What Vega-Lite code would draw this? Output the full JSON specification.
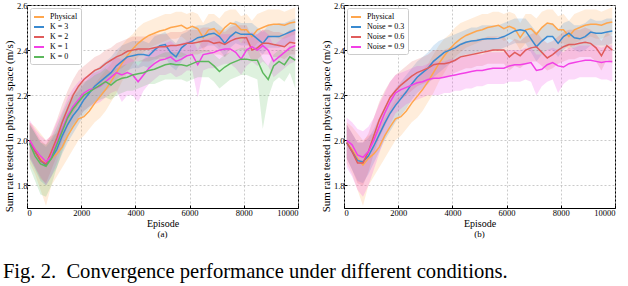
{
"$schema":"https://vega.github.io/schema/vega-lite/v6.json",
"padding":{"left":2,"top":0,"right":4,"bottom":0},
"title":{"text":"Fig. 2.\u00a0 Convergence performance under different conditions.","orient":"bottom","anchor":"start","fontSize":20.6,"fontWeight":"normal","font":"Liberation Serif","color":"#000","offset":23},
"spacing":20,
"resolve":{"scale":{"color":"independent","fill":"independent"}},
"datasets":{
"phys":[
{"e":100,"s":"Physical","v":1.99,"l":1.90,"h":2.08},{"e":300,"s":"Physical","v":1.96,"l":1.85,"h":2.06},{"e":500,"s":"Physical","v":1.92,"l":1.78,"h":2.03},{"e":700,"s":"Physical","v":1.89,"l":1.71,"h":2.00},{"e":900,"s":"Physical","v":1.92,"l":1.80,"h":2.02},{"e":1100,"s":"Physical","v":1.94,"l":1.84,"h":2.03},{"e":1300,"s":"Physical","v":1.97,"l":1.88,"h":2.06},{"e":1500,"s":"Physical","v":2.02,"l":1.92,"h":2.10},{"e":1700,"s":"Physical","v":2.06,"l":1.96,"h":2.14},{"e":1900,"s":"Physical","v":2.095,"l":2.00,"h":2.18},
{"e":2100,"s":"Physical","v":2.105,"l":2.02,"h":2.20},{"e":2300,"s":"Physical","v":2.13,"l":2.05,"h":2.22},{"e":2500,"s":"Physical","v":2.165,"l":2.08,"h":2.25},{"e":2700,"s":"Physical","v":2.195,"l":2.10,"h":2.28},{"e":2900,"s":"Physical","v":2.225,"l":2.13,"h":2.31},{"e":3100,"s":"Physical","v":2.26,"l":2.17,"h":2.34},{"e":3300,"s":"Physical","v":2.30,"l":2.21,"h":2.38},{"e":3500,"s":"Physical","v":2.34,"l":2.26,"h":2.42},{"e":3700,"s":"Physical","v":2.375,"l":2.30,"h":2.45},{"e":3900,"s":"Physical","v":2.405,"l":2.34,"h":2.47},
{"e":4100,"s":"Physical","v":2.43,"l":2.37,"h":2.50},{"e":4300,"s":"Physical","v":2.45,"l":2.39,"h":2.52},{"e":4500,"s":"Physical","v":2.465,"l":2.41,"h":2.53},{"e":4700,"s":"Physical","v":2.475,"l":2.42,"h":2.54},{"e":4900,"s":"Physical","v":2.485,"l":2.43,"h":2.55},{"e":5100,"s":"Physical","v":2.49,"l":2.44,"h":2.56},{"e":5300,"s":"Physical","v":2.50,"l":2.45,"h":2.56},{"e":5500,"s":"Physical","v":2.505,"l":2.45,"h":2.57},{"e":5700,"s":"Physical","v":2.51,"l":2.46,"h":2.57},{"e":5900,"s":"Physical","v":2.495,"l":2.44,"h":2.56},
{"e":6100,"s":"Physical","v":2.505,"l":2.45,"h":2.57},{"e":6300,"s":"Physical","v":2.495,"l":2.44,"h":2.56},{"e":6500,"s":"Physical","v":2.455,"l":2.40,"h":2.52},{"e":6700,"s":"Physical","v":2.49,"l":2.43,"h":2.56},{"e":6900,"s":"Physical","v":2.495,"l":2.44,"h":2.56},{"e":7100,"s":"Physical","v":2.47,"l":2.41,"h":2.54},{"e":7300,"s":"Physical","v":2.50,"l":2.44,"h":2.57},{"e":7500,"s":"Physical","v":2.52,"l":2.46,"h":2.58},{"e":7700,"s":"Physical","v":2.515,"l":2.46,"h":2.58},{"e":7900,"s":"Physical","v":2.49,"l":2.43,"h":2.55},
{"e":8100,"s":"Physical","v":2.49,"l":2.43,"h":2.56},{"e":8300,"s":"Physical","v":2.46,"l":2.40,"h":2.53},{"e":8500,"s":"Physical","v":2.49,"l":2.43,"h":2.56},{"e":8700,"s":"Physical","v":2.50,"l":2.44,"h":2.57},{"e":8900,"s":"Physical","v":2.51,"l":2.45,"h":2.58},{"e":9100,"s":"Physical","v":2.515,"l":2.46,"h":2.58},{"e":9300,"s":"Physical","v":2.515,"l":2.45,"h":2.58},{"e":9500,"s":"Physical","v":2.51,"l":2.45,"h":2.57},{"e":9700,"s":"Physical","v":2.52,"l":2.46,"h":2.58},{"e":9900,"s":"Physical","v":2.525,"l":2.47,"h":2.59}
],
"ka":[
{"e":100,"s":"K = 3","v":1.99,"l":1.92,"h":2.07},{"e":300,"s":"K = 3","v":1.95,"l":1.87,"h":2.03},{"e":500,"s":"K = 3","v":1.91,"l":1.82,"h":1.99},{"e":700,"s":"K = 3","v":1.89,"l":1.80,"h":1.97},{"e":900,"s":"K = 3","v":1.92,"l":1.84,"h":2.00},{"e":1100,"s":"K = 3","v":1.96,"l":1.88,"h":2.04},{"e":1300,"s":"K = 3","v":2.02,"l":1.94,"h":2.10},{"e":1500,"s":"K = 3","v":2.07,"l":1.99,"h":2.15},{"e":1700,"s":"K = 3","v":2.11,"l":2.03,"h":2.19},{"e":1900,"s":"K = 3","v":2.14,"l":2.07,"h":2.22},
{"e":2100,"s":"K = 3","v":2.18,"l":2.11,"h":2.25},{"e":2300,"s":"K = 3","v":2.21,"l":2.14,"h":2.28},{"e":2500,"s":"K = 3","v":2.24,"l":2.17,"h":2.31},{"e":2700,"s":"K = 3","v":2.26,"l":2.19,"h":2.33},{"e":2900,"s":"K = 3","v":2.28,"l":2.22,"h":2.35},{"e":3100,"s":"K = 3","v":2.30,"l":2.24,"h":2.37},{"e":3300,"s":"K = 3","v":2.33,"l":2.27,"h":2.40},{"e":3500,"s":"K = 3","v":2.35,"l":2.29,"h":2.42},{"e":3700,"s":"K = 3","v":2.37,"l":2.31,"h":2.43},{"e":3900,"s":"K = 3","v":2.375,"l":2.32,"h":2.44},
{"e":4100,"s":"K = 3","v":2.38,"l":2.32,"h":2.44},{"e":4300,"s":"K = 3","v":2.38,"l":2.33,"h":2.44},{"e":4500,"s":"K = 3","v":2.375,"l":2.32,"h":2.43},{"e":4700,"s":"K = 3","v":2.40,"l":2.35,"h":2.46},{"e":4900,"s":"K = 3","v":2.42,"l":2.37,"h":2.47},{"e":5100,"s":"K = 3","v":2.425,"l":2.37,"h":2.48},{"e":5300,"s":"K = 3","v":2.39,"l":2.33,"h":2.45},{"e":5500,"s":"K = 3","v":2.37,"l":2.31,"h":2.43},{"e":5700,"s":"K = 3","v":2.41,"l":2.35,"h":2.47},{"e":5900,"s":"K = 3","v":2.43,"l":2.38,"h":2.48},
{"e":6100,"s":"K = 3","v":2.44,"l":2.39,"h":2.50},{"e":6300,"s":"K = 3","v":2.455,"l":2.40,"h":2.51},{"e":6500,"s":"K = 3","v":2.46,"l":2.41,"h":2.51},{"e":6700,"s":"K = 3","v":2.47,"l":2.42,"h":2.52},{"e":6900,"s":"K = 3","v":2.475,"l":2.42,"h":2.53},{"e":7100,"s":"K = 3","v":2.46,"l":2.40,"h":2.51},{"e":7300,"s":"K = 3","v":2.43,"l":2.37,"h":2.49},{"e":7500,"s":"K = 3","v":2.46,"l":2.41,"h":2.51},{"e":7700,"s":"K = 3","v":2.48,"l":2.43,"h":2.53},{"e":7900,"s":"K = 3","v":2.47,"l":2.42,"h":2.52},
{"e":8100,"s":"K = 3","v":2.47,"l":2.42,"h":2.52},{"e":8300,"s":"K = 3","v":2.47,"l":2.42,"h":2.52},{"e":8500,"s":"K = 3","v":2.45,"l":2.40,"h":2.50},{"e":8700,"s":"K = 3","v":2.43,"l":2.38,"h":2.48},{"e":8900,"s":"K = 3","v":2.46,"l":2.41,"h":2.51},{"e":9100,"s":"K = 3","v":2.46,"l":2.41,"h":2.51},{"e":9300,"s":"K = 3","v":2.46,"l":2.41,"h":2.52},{"e":9500,"s":"K = 3","v":2.47,"l":2.42,"h":2.52},{"e":9700,"s":"K = 3","v":2.48,"l":2.43,"h":2.53},{"e":9900,"s":"K = 3","v":2.49,"l":2.44,"h":2.54},
{"e":100,"s":"K = 2","v":2.00,"l":1.93,"h":2.08},{"e":300,"s":"K = 2","v":1.95,"l":1.88,"h":2.04},{"e":500,"s":"K = 2","v":1.91,"l":1.83,"h":2.00},{"e":700,"s":"K = 2","v":1.895,"l":1.81,"h":1.98},{"e":900,"s":"K = 2","v":1.95,"l":1.87,"h":2.03},{"e":1100,"s":"K = 2","v":2.01,"l":1.93,"h":2.09},{"e":1300,"s":"K = 2","v":2.08,"l":2.00,"h":2.16},{"e":1500,"s":"K = 2","v":2.14,"l":2.06,"h":2.22},{"e":1700,"s":"K = 2","v":2.20,"l":2.12,"h":2.27},{"e":1900,"s":"K = 2","v":2.24,"l":2.16,"h":2.31},
{"e":2100,"s":"K = 2","v":2.27,"l":2.19,"h":2.33},{"e":2300,"s":"K = 2","v":2.29,"l":2.22,"h":2.35},{"e":2500,"s":"K = 2","v":2.31,"l":2.24,"h":2.37},{"e":2700,"s":"K = 2","v":2.32,"l":2.25,"h":2.38},{"e":2900,"s":"K = 2","v":2.34,"l":2.27,"h":2.40},{"e":3100,"s":"K = 2","v":2.355,"l":2.29,"h":2.41},{"e":3300,"s":"K = 2","v":2.37,"l":2.31,"h":2.43},{"e":3500,"s":"K = 2","v":2.38,"l":2.32,"h":2.44},{"e":3700,"s":"K = 2","v":2.395,"l":2.34,"h":2.45},{"e":3900,"s":"K = 2","v":2.40,"l":2.35,"h":2.46},
{"e":4100,"s":"K = 2","v":2.405,"l":2.35,"h":2.46},{"e":4300,"s":"K = 2","v":2.405,"l":2.35,"h":2.46},{"e":4500,"s":"K = 2","v":2.405,"l":2.35,"h":2.46},{"e":4700,"s":"K = 2","v":2.41,"l":2.36,"h":2.47},{"e":4900,"s":"K = 2","v":2.415,"l":2.36,"h":2.47},{"e":5100,"s":"K = 2","v":2.415,"l":2.36,"h":2.47},{"e":5300,"s":"K = 2","v":2.42,"l":2.37,"h":2.48},{"e":5500,"s":"K = 2","v":2.42,"l":2.37,"h":2.48},{"e":5700,"s":"K = 2","v":2.425,"l":2.37,"h":2.48},{"e":5900,"s":"K = 2","v":2.43,"l":2.38,"h":2.49},
{"e":6100,"s":"K = 2","v":2.43,"l":2.38,"h":2.49},{"e":6300,"s":"K = 2","v":2.435,"l":2.38,"h":2.49},{"e":6500,"s":"K = 2","v":2.44,"l":2.39,"h":2.50},{"e":6700,"s":"K = 2","v":2.44,"l":2.39,"h":2.50},{"e":6900,"s":"K = 2","v":2.43,"l":2.38,"h":2.49},{"e":7100,"s":"K = 2","v":2.435,"l":2.38,"h":2.49},{"e":7300,"s":"K = 2","v":2.425,"l":2.37,"h":2.48},{"e":7500,"s":"K = 2","v":2.44,"l":2.39,"h":2.50},{"e":7700,"s":"K = 2","v":2.45,"l":2.40,"h":2.51},{"e":7900,"s":"K = 2","v":2.455,"l":2.40,"h":2.51},
{"e":8100,"s":"K = 2","v":2.455,"l":2.40,"h":2.51},{"e":8300,"s":"K = 2","v":2.40,"l":2.35,"h":2.46},{"e":8500,"s":"K = 2","v":2.41,"l":2.36,"h":2.47},{"e":8700,"s":"K = 2","v":2.43,"l":2.38,"h":2.49},{"e":8900,"s":"K = 2","v":2.43,"l":2.38,"h":2.49},{"e":9100,"s":"K = 2","v":2.425,"l":2.37,"h":2.48},{"e":9300,"s":"K = 2","v":2.42,"l":2.37,"h":2.48},{"e":9500,"s":"K = 2","v":2.415,"l":2.36,"h":2.47},{"e":9700,"s":"K = 2","v":2.435,"l":2.38,"h":2.49},{"e":9900,"s":"K = 2","v":2.43,"l":2.38,"h":2.49},
{"e":100,"s":"K = 1","v":2.00,"l":1.92,"h":2.09},{"e":300,"s":"K = 1","v":1.96,"l":1.88,"h":2.05},{"e":500,"s":"K = 1","v":1.93,"l":1.84,"h":2.02},{"e":700,"s":"K = 1","v":1.905,"l":1.80,"h":2.00},{"e":900,"s":"K = 1","v":1.93,"l":1.84,"h":2.02},{"e":1100,"s":"K = 1","v":1.99,"l":1.90,"h":2.08},{"e":1300,"s":"K = 1","v":2.05,"l":1.97,"h":2.13},{"e":1500,"s":"K = 1","v":2.11,"l":2.03,"h":2.19},{"e":1700,"s":"K = 1","v":2.15,"l":2.07,"h":2.23},{"e":1900,"s":"K = 1","v":2.18,"l":2.10,"h":2.26},
{"e":2100,"s":"K = 1","v":2.21,"l":2.13,"h":2.28},{"e":2300,"s":"K = 1","v":2.225,"l":2.15,"h":2.29},{"e":2500,"s":"K = 1","v":2.23,"l":2.16,"h":2.30},{"e":2700,"s":"K = 1","v":2.24,"l":2.17,"h":2.31},{"e":2900,"s":"K = 1","v":2.26,"l":2.19,"h":2.33},{"e":3100,"s":"K = 1","v":2.28,"l":2.21,"h":2.35},{"e":3300,"s":"K = 1","v":2.30,"l":2.22,"h":2.37},{"e":3500,"s":"K = 1","v":2.29,"l":2.17,"h":2.36},{"e":3700,"s":"K = 1","v":2.30,"l":2.20,"h":2.37},{"e":3900,"s":"K = 1","v":2.29,"l":2.20,"h":2.36},
{"e":4100,"s":"K = 1","v":2.26,"l":2.17,"h":2.33},{"e":4300,"s":"K = 1","v":2.29,"l":2.22,"h":2.36},{"e":4500,"s":"K = 1","v":2.32,"l":2.25,"h":2.39},{"e":4700,"s":"K = 1","v":2.34,"l":2.27,"h":2.41},{"e":4900,"s":"K = 1","v":2.355,"l":2.29,"h":2.42},{"e":5100,"s":"K = 1","v":2.36,"l":2.29,"h":2.43},{"e":5300,"s":"K = 1","v":2.37,"l":2.30,"h":2.44},{"e":5500,"s":"K = 1","v":2.35,"l":2.28,"h":2.42},{"e":5700,"s":"K = 1","v":2.36,"l":2.29,"h":2.43},{"e":5900,"s":"K = 1","v":2.375,"l":2.31,"h":2.44},
{"e":6100,"s":"K = 1","v":2.38,"l":2.31,"h":2.45},{"e":6300,"s":"K = 1","v":2.335,"l":2.19,"h":2.40},{"e":6500,"s":"K = 1","v":2.38,"l":2.31,"h":2.45},{"e":6700,"s":"K = 1","v":2.385,"l":2.32,"h":2.45},{"e":6900,"s":"K = 1","v":2.39,"l":2.32,"h":2.46},{"e":7100,"s":"K = 1","v":2.40,"l":2.33,"h":2.47},{"e":7300,"s":"K = 1","v":2.405,"l":2.34,"h":2.47},{"e":7500,"s":"K = 1","v":2.405,"l":2.34,"h":2.47},{"e":7700,"s":"K = 1","v":2.39,"l":2.32,"h":2.46},{"e":7900,"s":"K = 1","v":2.36,"l":2.29,"h":2.43},
{"e":8100,"s":"K = 1","v":2.40,"l":2.33,"h":2.47},{"e":8300,"s":"K = 1","v":2.415,"l":2.35,"h":2.48},{"e":8500,"s":"K = 1","v":2.40,"l":2.33,"h":2.47},{"e":8700,"s":"K = 1","v":2.42,"l":2.35,"h":2.49},{"e":8900,"s":"K = 1","v":2.40,"l":2.33,"h":2.47},{"e":9100,"s":"K = 1","v":2.35,"l":2.28,"h":2.42},{"e":9300,"s":"K = 1","v":2.37,"l":2.30,"h":2.44},{"e":9500,"s":"K = 1","v":2.39,"l":2.32,"h":2.46},{"e":9700,"s":"K = 1","v":2.41,"l":2.34,"h":2.48},{"e":9900,"s":"K = 1","v":2.42,"l":2.35,"h":2.49},
{"e":100,"s":"K = 0","v":1.985,"l":1.88,"h":2.07},{"e":300,"s":"K = 0","v":1.93,"l":1.82,"h":2.03},{"e":500,"s":"K = 0","v":1.895,"l":1.76,"h":1.99},{"e":700,"s":"K = 0","v":1.885,"l":1.75,"h":1.98},{"e":900,"s":"K = 0","v":1.92,"l":1.80,"h":2.01},{"e":1100,"s":"K = 0","v":1.98,"l":1.88,"h":2.06},{"e":1300,"s":"K = 0","v":2.04,"l":1.95,"h":2.12},{"e":1500,"s":"K = 0","v":2.10,"l":2.01,"h":2.17},{"e":1700,"s":"K = 0","v":2.14,"l":2.06,"h":2.21},{"e":1900,"s":"K = 0","v":2.17,"l":2.10,"h":2.24},
{"e":2100,"s":"K = 0","v":2.20,"l":2.13,"h":2.26},{"e":2300,"s":"K = 0","v":2.215,"l":2.15,"h":2.27},{"e":2500,"s":"K = 0","v":2.23,"l":2.17,"h":2.29},{"e":2700,"s":"K = 0","v":2.245,"l":2.18,"h":2.30},{"e":2900,"s":"K = 0","v":2.26,"l":2.19,"h":2.32},{"e":3100,"s":"K = 0","v":2.245,"l":2.18,"h":2.30},{"e":3300,"s":"K = 0","v":2.265,"l":2.20,"h":2.32},{"e":3500,"s":"K = 0","v":2.275,"l":2.21,"h":2.33},{"e":3700,"s":"K = 0","v":2.28,"l":2.22,"h":2.34},{"e":3900,"s":"K = 0","v":2.29,"l":2.22,"h":2.35},
{"e":4100,"s":"K = 0","v":2.295,"l":2.23,"h":2.35},{"e":4300,"s":"K = 0","v":2.30,"l":2.24,"h":2.36},{"e":4500,"s":"K = 0","v":2.31,"l":2.25,"h":2.37},{"e":4700,"s":"K = 0","v":2.315,"l":2.25,"h":2.37},{"e":4900,"s":"K = 0","v":2.325,"l":2.26,"h":2.38},{"e":5100,"s":"K = 0","v":2.335,"l":2.27,"h":2.39},{"e":5300,"s":"K = 0","v":2.34,"l":2.27,"h":2.39},{"e":5500,"s":"K = 0","v":2.335,"l":2.27,"h":2.39},{"e":5700,"s":"K = 0","v":2.335,"l":2.27,"h":2.39},{"e":5900,"s":"K = 0","v":2.33,"l":2.26,"h":2.38},
{"e":6100,"s":"K = 0","v":2.34,"l":2.27,"h":2.39},{"e":6300,"s":"K = 0","v":2.35,"l":2.28,"h":2.40},{"e":6500,"s":"K = 0","v":2.35,"l":2.28,"h":2.40},{"e":6700,"s":"K = 0","v":2.35,"l":2.28,"h":2.40},{"e":6900,"s":"K = 0","v":2.33,"l":2.26,"h":2.38},{"e":7100,"s":"K = 0","v":2.305,"l":2.23,"h":2.36},{"e":7300,"s":"K = 0","v":2.325,"l":2.25,"h":2.38},{"e":7500,"s":"K = 0","v":2.34,"l":2.27,"h":2.39},{"e":7700,"s":"K = 0","v":2.35,"l":2.28,"h":2.40},{"e":7900,"s":"K = 0","v":2.36,"l":2.29,"h":2.41},
{"e":8100,"s":"K = 0","v":2.36,"l":2.29,"h":2.41},{"e":8300,"s":"K = 0","v":2.355,"l":2.28,"h":2.41},{"e":8500,"s":"K = 0","v":2.355,"l":2.27,"h":2.41},{"e":8700,"s":"K = 0","v":2.30,"l":2.05,"h":2.36},{"e":8900,"s":"K = 0","v":2.27,"l":2.19,"h":2.33},{"e":9100,"s":"K = 0","v":2.33,"l":2.26,"h":2.38},{"e":9300,"s":"K = 0","v":2.35,"l":2.28,"h":2.40},{"e":9500,"s":"K = 0","v":2.335,"l":2.26,"h":2.39},{"e":9700,"s":"K = 0","v":2.37,"l":2.30,"h":2.42},{"e":9900,"s":"K = 0","v":2.355,"l":2.23,"h":2.41}
],
"nb":[
{"e":100,"s":"Noise = 0.3","v":1.99,"l":1.92,"h":2.07},{"e":300,"s":"Noise = 0.3","v":1.95,"l":1.87,"h":2.03},{"e":500,"s":"Noise = 0.3","v":1.91,"l":1.82,"h":1.99},{"e":700,"s":"Noise = 0.3","v":1.905,"l":1.81,"h":1.99},{"e":900,"s":"Noise = 0.3","v":1.93,"l":1.85,"h":2.01},{"e":1100,"s":"Noise = 0.3","v":1.975,"l":1.90,"h":2.05},{"e":1300,"s":"Noise = 0.3","v":2.025,"l":1.95,"h":2.10},{"e":1500,"s":"Noise = 0.3","v":2.075,"l":2.00,"h":2.15},{"e":1700,"s":"Noise = 0.3","v":2.12,"l":2.04,"h":2.19},{"e":1900,"s":"Noise = 0.3","v":2.155,"l":2.08,"h":2.23},
{"e":2100,"s":"Noise = 0.3","v":2.185,"l":2.11,"h":2.26},{"e":2300,"s":"Noise = 0.3","v":2.215,"l":2.14,"h":2.29},{"e":2500,"s":"Noise = 0.3","v":2.25,"l":2.18,"h":2.32},{"e":2700,"s":"Noise = 0.3","v":2.28,"l":2.21,"h":2.35},{"e":2900,"s":"Noise = 0.3","v":2.30,"l":2.23,"h":2.37},{"e":3100,"s":"Noise = 0.3","v":2.32,"l":2.25,"h":2.39},{"e":3300,"s":"Noise = 0.3","v":2.35,"l":2.28,"h":2.42},{"e":3500,"s":"Noise = 0.3","v":2.37,"l":2.30,"h":2.44},{"e":3700,"s":"Noise = 0.3","v":2.39,"l":2.32,"h":2.45},{"e":3900,"s":"Noise = 0.3","v":2.40,"l":2.34,"h":2.46},
{"e":4100,"s":"Noise = 0.3","v":2.41,"l":2.35,"h":2.47},{"e":4300,"s":"Noise = 0.3","v":2.425,"l":2.37,"h":2.48},{"e":4500,"s":"Noise = 0.3","v":2.435,"l":2.38,"h":2.49},{"e":4700,"s":"Noise = 0.3","v":2.44,"l":2.38,"h":2.50},{"e":4900,"s":"Noise = 0.3","v":2.443,"l":2.39,"h":2.50},{"e":5100,"s":"Noise = 0.3","v":2.448,"l":2.39,"h":2.51},{"e":5300,"s":"Noise = 0.3","v":2.45,"l":2.40,"h":2.51},{"e":5500,"s":"Noise = 0.3","v":2.45,"l":2.40,"h":2.51},{"e":5700,"s":"Noise = 0.3","v":2.452,"l":2.40,"h":2.51},{"e":5900,"s":"Noise = 0.3","v":2.46,"l":2.41,"h":2.52},
{"e":6100,"s":"Noise = 0.3","v":2.472,"l":2.42,"h":2.53},{"e":6300,"s":"Noise = 0.3","v":2.485,"l":2.43,"h":2.54},{"e":6500,"s":"Noise = 0.3","v":2.49,"l":2.43,"h":2.54},{"e":6700,"s":"Noise = 0.3","v":2.485,"l":2.43,"h":2.54},{"e":6900,"s":"Noise = 0.3","v":2.45,"l":2.39,"h":2.51},{"e":7100,"s":"Noise = 0.3","v":2.415,"l":2.35,"h":2.48},{"e":7300,"s":"Noise = 0.3","v":2.44,"l":2.38,"h":2.50},{"e":7500,"s":"Noise = 0.3","v":2.46,"l":2.40,"h":2.52},{"e":7700,"s":"Noise = 0.3","v":2.46,"l":2.40,"h":2.52},{"e":7900,"s":"Noise = 0.3","v":2.43,"l":2.37,"h":2.49},
{"e":8100,"s":"Noise = 0.3","v":2.46,"l":2.40,"h":2.52},{"e":8300,"s":"Noise = 0.3","v":2.475,"l":2.42,"h":2.53},{"e":8500,"s":"Noise = 0.3","v":2.455,"l":2.40,"h":2.51},{"e":8700,"s":"Noise = 0.3","v":2.45,"l":2.39,"h":2.51},{"e":8900,"s":"Noise = 0.3","v":2.46,"l":2.40,"h":2.52},{"e":9100,"s":"Noise = 0.3","v":2.48,"l":2.42,"h":2.54},{"e":9300,"s":"Noise = 0.3","v":2.475,"l":2.42,"h":2.53},{"e":9500,"s":"Noise = 0.3","v":2.475,"l":2.42,"h":2.53},{"e":9700,"s":"Noise = 0.3","v":2.48,"l":2.42,"h":2.54},{"e":9900,"s":"Noise = 0.3","v":2.485,"l":2.43,"h":2.54},
{"e":100,"s":"Noise = 0.6","v":1.99,"l":1.92,"h":2.07},{"e":300,"s":"Noise = 0.6","v":1.95,"l":1.87,"h":2.03},{"e":500,"s":"Noise = 0.6","v":1.90,"l":1.81,"h":1.99},{"e":700,"s":"Noise = 0.6","v":1.90,"l":1.80,"h":1.99},{"e":900,"s":"Noise = 0.6","v":1.95,"l":1.86,"h":2.03},{"e":1100,"s":"Noise = 0.6","v":2.02,"l":1.94,"h":2.10},{"e":1300,"s":"Noise = 0.6","v":2.09,"l":2.01,"h":2.17},{"e":1500,"s":"Noise = 0.6","v":2.14,"l":2.06,"h":2.22},{"e":1700,"s":"Noise = 0.6","v":2.19,"l":2.11,"h":2.26},{"e":1900,"s":"Noise = 0.6","v":2.22,"l":2.15,"h":2.29},
{"e":2100,"s":"Noise = 0.6","v":2.245,"l":2.18,"h":2.31},{"e":2300,"s":"Noise = 0.6","v":2.265,"l":2.20,"h":2.33},{"e":2500,"s":"Noise = 0.6","v":2.285,"l":2.22,"h":2.35},{"e":2700,"s":"Noise = 0.6","v":2.30,"l":2.24,"h":2.36},{"e":2900,"s":"Noise = 0.6","v":2.31,"l":2.25,"h":2.37},{"e":3100,"s":"Noise = 0.6","v":2.32,"l":2.26,"h":2.38},{"e":3300,"s":"Noise = 0.6","v":2.335,"l":2.27,"h":2.40},{"e":3500,"s":"Noise = 0.6","v":2.34,"l":2.28,"h":2.40},{"e":3700,"s":"Noise = 0.6","v":2.34,"l":2.28,"h":2.40},{"e":3900,"s":"Noise = 0.6","v":2.345,"l":2.29,"h":2.41},
{"e":4100,"s":"Noise = 0.6","v":2.355,"l":2.30,"h":2.42},{"e":4300,"s":"Noise = 0.6","v":2.37,"l":2.31,"h":2.43},{"e":4500,"s":"Noise = 0.6","v":2.375,"l":2.32,"h":2.44},{"e":4700,"s":"Noise = 0.6","v":2.38,"l":2.32,"h":2.44},{"e":4900,"s":"Noise = 0.6","v":2.385,"l":2.33,"h":2.45},{"e":5100,"s":"Noise = 0.6","v":2.39,"l":2.33,"h":2.45},{"e":5300,"s":"Noise = 0.6","v":2.395,"l":2.34,"h":2.46},{"e":5500,"s":"Noise = 0.6","v":2.40,"l":2.34,"h":2.46},{"e":5700,"s":"Noise = 0.6","v":2.40,"l":2.34,"h":2.46},{"e":5900,"s":"Noise = 0.6","v":2.40,"l":2.34,"h":2.46},
{"e":6100,"s":"Noise = 0.6","v":2.37,"l":2.31,"h":2.43},{"e":6300,"s":"Noise = 0.6","v":2.39,"l":2.33,"h":2.45},{"e":6500,"s":"Noise = 0.6","v":2.375,"l":2.32,"h":2.44},{"e":6700,"s":"Noise = 0.6","v":2.40,"l":2.34,"h":2.46},{"e":6900,"s":"Noise = 0.6","v":2.41,"l":2.35,"h":2.47},{"e":7100,"s":"Noise = 0.6","v":2.415,"l":2.35,"h":2.48},{"e":7300,"s":"Noise = 0.6","v":2.39,"l":2.33,"h":2.45},{"e":7500,"s":"Noise = 0.6","v":2.365,"l":2.31,"h":2.43},{"e":7700,"s":"Noise = 0.6","v":2.38,"l":2.32,"h":2.44},{"e":7900,"s":"Noise = 0.6","v":2.40,"l":2.34,"h":2.46},
{"e":8100,"s":"Noise = 0.6","v":2.415,"l":2.35,"h":2.48},{"e":8300,"s":"Noise = 0.6","v":2.425,"l":2.36,"h":2.49},{"e":8500,"s":"Noise = 0.6","v":2.425,"l":2.36,"h":2.49},{"e":8700,"s":"Noise = 0.6","v":2.43,"l":2.37,"h":2.49},{"e":8900,"s":"Noise = 0.6","v":2.435,"l":2.37,"h":2.50},{"e":9100,"s":"Noise = 0.6","v":2.43,"l":2.37,"h":2.49},{"e":9300,"s":"Noise = 0.6","v":2.41,"l":2.35,"h":2.47},{"e":9500,"s":"Noise = 0.6","v":2.375,"l":2.31,"h":2.44},{"e":9700,"s":"Noise = 0.6","v":2.42,"l":2.36,"h":2.48},{"e":9900,"s":"Noise = 0.6","v":2.40,"l":2.34,"h":2.46},
{"e":100,"s":"Noise = 0.9","v":2.00,"l":1.88,"h":2.10},{"e":300,"s":"Noise = 0.9","v":1.98,"l":1.84,"h":2.08},{"e":500,"s":"Noise = 0.9","v":1.935,"l":1.78,"h":2.05},{"e":700,"s":"Noise = 0.9","v":1.925,"l":1.75,"h":2.04},{"e":900,"s":"Noise = 0.9","v":1.95,"l":1.80,"h":2.06},{"e":1100,"s":"Noise = 0.9","v":2.00,"l":1.87,"h":2.10},{"e":1300,"s":"Noise = 0.9","v":2.06,"l":1.94,"h":2.16},{"e":1500,"s":"Noise = 0.9","v":2.12,"l":2.01,"h":2.21},{"e":1700,"s":"Noise = 0.9","v":2.17,"l":2.07,"h":2.26},{"e":1900,"s":"Noise = 0.9","v":2.21,"l":2.12,"h":2.29},
{"e":2100,"s":"Noise = 0.9","v":2.225,"l":2.14,"h":2.30},{"e":2300,"s":"Noise = 0.9","v":2.235,"l":2.16,"h":2.31},{"e":2500,"s":"Noise = 0.9","v":2.245,"l":2.17,"h":2.32},{"e":2700,"s":"Noise = 0.9","v":2.255,"l":2.18,"h":2.33},{"e":2900,"s":"Noise = 0.9","v":2.26,"l":2.19,"h":2.33},{"e":3100,"s":"Noise = 0.9","v":2.27,"l":2.20,"h":2.34},{"e":3300,"s":"Noise = 0.9","v":2.275,"l":2.20,"h":2.35},{"e":3500,"s":"Noise = 0.9","v":2.275,"l":2.20,"h":2.35},{"e":3700,"s":"Noise = 0.9","v":2.28,"l":2.21,"h":2.35},{"e":3900,"s":"Noise = 0.9","v":2.285,"l":2.21,"h":2.36},
{"e":4100,"s":"Noise = 0.9","v":2.29,"l":2.22,"h":2.36},{"e":4300,"s":"Noise = 0.9","v":2.295,"l":2.22,"h":2.37},{"e":4500,"s":"Noise = 0.9","v":2.30,"l":2.23,"h":2.37},{"e":4700,"s":"Noise = 0.9","v":2.305,"l":2.23,"h":2.38},{"e":4900,"s":"Noise = 0.9","v":2.31,"l":2.24,"h":2.38},{"e":5100,"s":"Noise = 0.9","v":2.31,"l":2.24,"h":2.38},{"e":5300,"s":"Noise = 0.9","v":2.315,"l":2.25,"h":2.39},{"e":5500,"s":"Noise = 0.9","v":2.32,"l":2.25,"h":2.39},{"e":5700,"s":"Noise = 0.9","v":2.32,"l":2.25,"h":2.39},{"e":5900,"s":"Noise = 0.9","v":2.32,"l":2.25,"h":2.39},
{"e":6100,"s":"Noise = 0.9","v":2.33,"l":2.26,"h":2.40},{"e":6300,"s":"Noise = 0.9","v":2.335,"l":2.26,"h":2.40},{"e":6500,"s":"Noise = 0.9","v":2.335,"l":2.26,"h":2.40},{"e":6700,"s":"Noise = 0.9","v":2.34,"l":2.27,"h":2.41},{"e":6900,"s":"Noise = 0.9","v":2.345,"l":2.26,"h":2.41},{"e":7100,"s":"Noise = 0.9","v":2.31,"l":2.20,"h":2.38},{"e":7300,"s":"Noise = 0.9","v":2.315,"l":2.24,"h":2.38},{"e":7500,"s":"Noise = 0.9","v":2.335,"l":2.26,"h":2.40},{"e":7700,"s":"Noise = 0.9","v":2.345,"l":2.27,"h":2.41},{"e":7900,"s":"Noise = 0.9","v":2.33,"l":2.21,"h":2.40},
{"e":8100,"s":"Noise = 0.9","v":2.325,"l":2.25,"h":2.39},{"e":8300,"s":"Noise = 0.9","v":2.34,"l":2.27,"h":2.41},{"e":8500,"s":"Noise = 0.9","v":2.345,"l":2.27,"h":2.41},{"e":8700,"s":"Noise = 0.9","v":2.35,"l":2.28,"h":2.42},{"e":8900,"s":"Noise = 0.9","v":2.355,"l":2.28,"h":2.42},{"e":9100,"s":"Noise = 0.9","v":2.355,"l":2.28,"h":2.42},{"e":9300,"s":"Noise = 0.9","v":2.35,"l":2.28,"h":2.42},{"e":9500,"s":"Noise = 0.9","v":2.345,"l":2.27,"h":2.41},{"e":9700,"s":"Noise = 0.9","v":2.35,"l":2.27,"h":2.42},{"e":9900,"s":"Noise = 0.9","v":2.35,"l":2.26,"h":2.42}
]
},
"hconcat":[
{
"width":271,"height":203,
"title":{"text":"(a)","orient":"bottom","fontSize":9,"fontWeight":"normal","offset":1},
"encoding":{
"x":{"field":"e","type":"quantitative","scale":{"domain":[0,10000],"nice":false},"axis":{"title":"Episode","values":[0,2000,4000,6000,8000,10000],"format":"d"}}
},
"layer":[
{"data":{"name":"phys"},"mark":{"type":"area","opacity":0.2,"clip":true},"encoding":{"y":{"field":"l","type":"quantitative","scale":{"domain":[1.7,2.6],"nice":false,"zero":false},"axis":{"title":"Sum rate tested in physical space (m/s)","values":[1.8,2.0,2.2,2.4,2.6],"format":".1f","titleY":121}},"y2":{"field":"h"},"fill":{"field":"s","type":"nominal","legend":null,"scale":{"domain":["Physical","K = 3","K = 2","K = 1","K = 0","-"],"range":["#FFA64D","#3A8AD0","#E05C5C","#F240E6","#5CB85C","#ffffff"]}}}},
{"data":{"name":"ka"},"mark":{"type":"area","opacity":0.2,"clip":true},"encoding":{"y":{"field":"l","type":"quantitative"},"y2":{"field":"h"},"fill":{"field":"s","type":"nominal","legend":null}}},
{"data":{"name":"phys"},"mark":{"type":"line","strokeWidth":1.5},"encoding":{"y":{"field":"v","type":"quantitative"},"color":{"field":"s","type":"nominal","scale":{"domain":["Physical","K = 3","K = 2","K = 1","K = 0"],"range":["#FFA64D","#3A8AD0","#E05C5C","#F240E6","#5CB85C"]},"legend":{"title":null,"orient":"top-left","offset":3,"padding":3,"strokeColor":"#cccccc","fillColor":"#ffffff","symbolType":"stroke","symbolStrokeWidth":2,"symbolSize":100,"labelFontSize":8,"labelOffset":5,"rowPadding":0}}}},
{"data":{"name":"ka"},"mark":{"type":"line","strokeWidth":1.5},"encoding":{"y":{"field":"v","type":"quantitative"},"color":{"field":"s","type":"nominal"}}}
]
},
{
"width":271,"height":203,
"title":{"text":"(b)","orient":"bottom","fontSize":9,"fontWeight":"normal","offset":1},
"encoding":{
"x":{"field":"e","type":"quantitative","scale":{"domain":[0,10000],"nice":false},"axis":{"title":"Episode","values":[0,2000,4000,6000,8000,10000],"format":"d"}}
},
"layer":[
{"data":{"name":"phys"},"mark":{"type":"area","opacity":0.2,"clip":true},"encoding":{"y":{"field":"l","type":"quantitative","scale":{"domain":[1.7,2.6],"nice":false,"zero":false},"axis":{"title":"Sum rate tested in physical space (m/s)","values":[1.8,2.0,2.2,2.4,2.6],"format":".1f","titleY":121}},"y2":{"field":"h"},"fill":{"field":"s","type":"nominal","legend":null,"scale":{"domain":["Physical","Noise = 0.3","Noise = 0.6","Noise = 0.9","-"],"range":["#FFA64D","#3A8AD0","#E05C5C","#F240E6","#ffffff"]}}}},
{"data":{"name":"nb"},"mark":{"type":"area","opacity":0.2,"clip":true},"encoding":{"y":{"field":"l","type":"quantitative"},"y2":{"field":"h"},"fill":{"field":"s","type":"nominal","legend":null}}},
{"data":{"name":"phys"},"mark":{"type":"line","strokeWidth":1.5},"encoding":{"y":{"field":"v","type":"quantitative"},"color":{"field":"s","type":"nominal","scale":{"domain":["Physical","Noise = 0.3","Noise = 0.6","Noise = 0.9"],"range":["#FFA64D","#3A8AD0","#E05C5C","#F240E6"]},"legend":{"title":null,"orient":"top-left","offset":3,"padding":3,"strokeColor":"#cccccc","fillColor":"#ffffff","symbolType":"stroke","symbolStrokeWidth":2,"symbolSize":100,"labelFontSize":8,"labelOffset":5,"rowPadding":0}}}},
{"data":{"name":"nb"},"mark":{"type":"line","strokeWidth":1.5},"encoding":{"y":{"field":"v","type":"quantitative"},"color":{"field":"s","type":"nominal"}}}
]
}
],
"config":{
"font":"Liberation Serif",
"view":{"stroke":"#000","strokeWidth":1},
"axis":{"domain":false,"grid":true,"gridDash":[2,2],"gridColor":"#bdbdbd","gridWidth":0.8,"tickColor":"#000","tickSize":-3,"labelFont":"Liberation Serif","labelFontSize":8.5,"labelColor":"#000","labelPadding":3,"titleFont":"Liberation Serif","titleFontSize":10,"titleFontWeight":"normal","titleColor":"#000","titlePadding":2},
"axisY":{"titleFontSize":11},
"legend":{"labelFont":"Liberation Serif","labelColor":"#000","cornerRadius":2}
}
}
